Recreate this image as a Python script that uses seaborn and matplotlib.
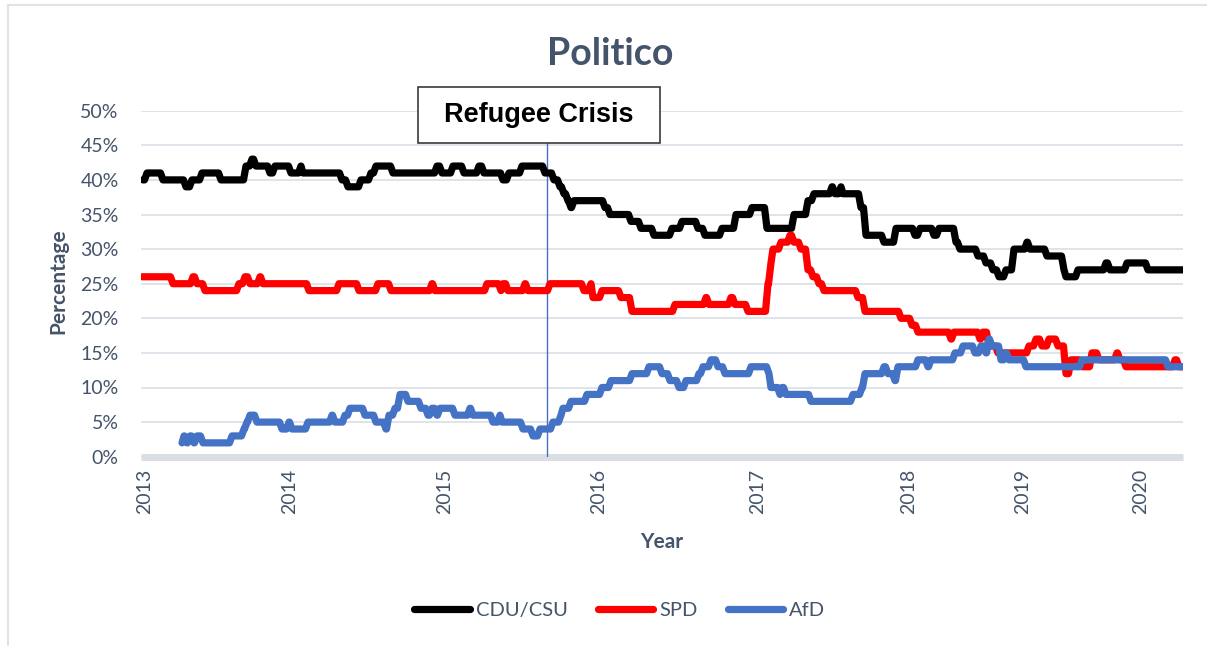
import matplotlib
matplotlib.use("Agg")
import matplotlib.pyplot as plt
import seaborn as sns
import pandas as pd
from matplotlib.patches import Rectangle
from matplotlib.lines import Line2D
from matplotlib.ticker import FuncFormatter

# ---------------- data (x = position along the poll axis, y = percent) ----------------
cdu_pos = [143,147,163,186,192,202,221,246,252,256,270,275,291,301,303,342,348,361,371,376,393,
           437,442,453,464,479,484,503,509,522,545,554,560,564,568,571,574,605,610,631,641,654,
           672,682,698,705,722,736,752,767,794,808,814,832,835,841,843,861,866,884,896,915,920,
           934,939,956,960,978,986,993,999,1006,1014,1027,1030,1047,1064,1066,1078,1106,1110,
           1127,1148,1183]
cdu_val = [40,41,40,39,40,41,40,42,43,42,41,42,41,42,41,40,39,40,41,42,41,
           42,41,42,41,42,41,40,41,42,41,40,39,38,37,36,37,36,35,34,33,32,
           33,34,33,32,33,35,36,33,35,37,38,39,38,39,38,36,32,31,33,32,33,
           32,33,31,30,29,28,27,26,27,30,31,30,29,27,26,27,28,27,
           28,27,27]

spd_pos = [142,173,193,197,205,239,245,250,260,263,309,339,359,378,391,432,435,487,501,503,
           508,525,528,550,584,591,593,602,621,632,675,706,709,731,735,748,768,771,773,781,
           790,794,801,808,813,819,824,858,865,901,912,918,951,954,980,983,989,998,1029,1036,
           1042,1049,1058,1066,1071,1082,1092,1099,1117,1120,1126,1175,1179,1183]
spd_val = [26,25,26,25,24,25,26,25,26,25,24,25,24,25,24,25,24,25,24,25,
           24,25,24,25,24,25,23,24,23,21,22,23,22,23,22,21,25,28,30,31,
           32,31,30,27,26,25,24,23,21,20,19,18,17,18,17,18,16,15,16,17,
           16,17,16,12,14,13,15,14,15,14,13,14,13,13]

afd_pos = [182,184,187,190,194,197,203,232,244,247,250,257,282,289,292,308,332,335,345,350,
           365,376,386,389,395,400,408,421,428,432,437,440,455,470,473,493,500,502,523,533,
           540,553,561,563,571,587,602,611,632,649,662,670,679,686,699,703,711,718,725,751,
           769,771,780,782,786,811,853,862,865,884,888,895,898,918,928,931,955,963,975,981,
           986,989,992,1001,1006,1009,1026,1082,1168,1183]
afd_val = [2,3,2,3,2,3,2,3,4,5,6,5,4,5,4,5,6,5,6,7,
           6,5,4,6,7,9,8,7,6,7,6,7,6,7,6,5,6,5,4,3,
           4,5,6,7,8,9,10,11,12,13,12,11,10,11,12,13,14,13,12,13,
           12,10,9,10,9,8,9,10,12,13,12,11,13,14,13,14,15,16,15,16,
           15,17,16,14,15,14,13,14,13,13]

year_labels = ["2013", "2014", "2015", "2016", "2017", "2018", "2019", "2020"]
year_pos = [145, 290, 445, 599, 758, 909, 1023, 1141]
refugee_pos = 547

parties = ["CDU/CSU", "SPD", "AfD"]
colors = ["#000000", "#FF0000", "#4472C4"]


def level_path(pos, val, ramp=2.5):
    """Each value holds from its position until shortly before the next one."""
    xs, ys = [], []
    for i in range(len(pos) - 1):
        xs += [pos[i], max(pos[i], pos[i + 1] - ramp)]
        ys += [val[i], val[i]]
    xs.append(pos[-1])
    ys.append(val[-1])
    return pd.DataFrame({"pos": xs, "val": ys})


# ---------------- styling ----------------
sns.set_style("white")
plt.rcParams['font.family'] = ['Lato', 'DejaVu Sans']
TXT = "#44546A"

W, H = 1207, 646
fig = plt.figure(figsize=(W / 100, H / 100), dpi=100)
y0_px, y50_px, xl_px, xr_px = 456.7, 110.7, 141, 1183
ax = fig.add_axes([xl_px / W, 1 - y0_px / H, (xr_px - xl_px) / W, (y0_px - y50_px) / H])

series = [(cdu_pos, cdu_val), (spd_pos, spd_val), (afd_pos, afd_val)]
for (p, v), name, c in zip(series, parties, colors):
    sns.lineplot(data=level_path(p, v), x="pos", y="val", ax=ax, color=c, linewidth=5.2,
                 estimator=None, sort=False, label=name,
                 solid_joinstyle="round", solid_capstyle="round", zorder=3)

ax.set_xlim(xl_px, xr_px)
ax.set_ylim(0, 50)
ax.set_xticks(year_pos)
ax.set_xticklabels(year_labels, rotation=90)
ax.set_yticks(range(0, 51, 5))
ax.yaxis.set_major_formatter(FuncFormatter(lambda v, _: f"{int(v)}%"))
ax.tick_params(axis="x", length=0, pad=9, labelsize=14, colors=TXT)
ax.tick_params(axis="y", length=0, pad=16, labelsize=14, colors=TXT)
ax.set_xlabel("")
ax.set_ylabel("")
for s in ax.spines.values():
    s.set_visible(False)
ax.grid(axis="y", color="#dde1e7", linewidth=1.3)
ax.grid(axis="x", visible=False)
ax.set_axisbelow(True)
ax.axhline(0, color="#d9dde4", linewidth=5, zorder=1, clip_on=False, solid_capstyle="butt")

# refugee crisis marker
box_bottom = (y0_px - 143) / (y0_px - y50_px) * 50
box_top = (y0_px - 87) / (y0_px - y50_px) * 50
ax.plot([refugee_pos, refugee_pos], [0, box_bottom], color="#4472C4", linewidth=1, zorder=2)
ax.add_patch(Rectangle((418, box_bottom), 242, box_top - box_bottom, facecolor="white",
                       edgecolor="#3a3a3a", linewidth=1.2, zorder=5, clip_on=False))
ax.text(539, (box_bottom + box_top) / 2, "Refugee Crisis", ha="center", va="center",
        fontsize=19.5, fontweight="bold", family=["Liberation Sans", "DejaVu Sans"],
        color="black", zorder=6, clip_on=False)

# titles
fig.text(610 / W, 1 - 54 / H, "Politico", ha="center", va="center", fontsize=27,
         fontweight="bold", color=TXT)
fig.text(58 / W, 1 - 281 / H, "Percentage", ha="center", va="center", rotation=90,
         fontsize=15, fontweight="bold", color=TXT)
fig.text(662 / W, 1 - 542 / H, "Year", ha="center", va="center", fontsize=15,
         fontweight="bold", color=TXT)

# legend
handles, labels = ax.get_legend_handles_labels()
ax.get_legend().remove()
leg = fig.legend(handles, labels, loc="center", bbox_to_anchor=(620 / W, 1 - 610 / H),
                 ncol=3, frameon=False, fontsize=14.5, handlelength=2.75, handletextpad=0.3,
                 columnspacing=1.5)
for t in leg.get_texts():
    t.set_color(TXT)

# chart frame (top and left edges are visible; the rest is cropped)
fig.add_artist(Line2D([8 / W, 1], [1 - 5 / H, 1 - 5 / H], transform=fig.transFigure,
                      color="#dfe3ea", linewidth=1.5))
fig.add_artist(Line2D([8 / W, 8 / W], [0, 1 - 5 / H], transform=fig.transFigure,
                      color="#dfe3ea", linewidth=1.5))

fig.savefig("out.png", dpi=100)
